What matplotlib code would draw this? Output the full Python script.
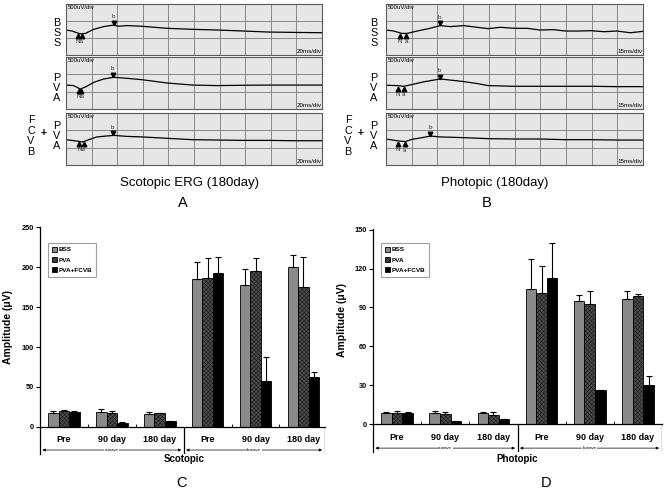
import matplotlib
matplotlib.use("Agg")
import matplotlib.pyplot as plt
from matplotlib.patches import Patch
import numpy as np

plt.rcParams['font.family'] = ['Liberation Sans', 'DejaVu Sans']
plt.rcParams['hatch.linewidth'] = 0.25

# ERG traces, x in time divisions (0-10), y in voltage divisions (0-3)
sco_bss_x = [0, 0.23, 0.56, 0.76, 1.08, 1.47, 1.86, 2.06, 2.38, 2.97, 3.95, 4.95, 5.9, 6.94, 7.92, 8.89, 10]
sco_bss_y = [1.47, 1.41, 1.24, 1.27, 1.51, 1.67, 1.76, 1.69, 1.73, 1.69, 1.57, 1.51, 1.47, 1.41, 1.35, 1.33, 1.31]
sco_pva_x = [0, 0.3, 0.56, 0.76, 1.09, 1.47, 1.86, 2.38, 2.97, 3.95, 4.95, 5.9, 6.94, 7.92, 8.89, 10]
sco_pva_y = [1.38, 1.35, 1.15, 1.27, 1.54, 1.73, 1.83, 1.77, 1.69, 1.5, 1.38, 1.35, 1.37, 1.38, 1.38, 1.38]
sco_fcvb_x = [0, 0.43, 0.66, 0.89, 1.21, 1.86, 2.38, 2.97, 3.95, 4.95, 5.9, 6.94, 7.92, 8.89, 10]
sco_fcvb_y = [1.46, 1.38, 1.33, 1.46, 1.62, 1.71, 1.65, 1.62, 1.54, 1.46, 1.44, 1.42, 1.42, 1.40, 1.40]

pho_bss_x = [0, 0.30, 0.62, 0.82, 1.21, 1.66, 2.11, 2.50, 3.02, 3.54, 3.98, 4.45, 4.98, 5.49, 5.98,
             6.52, 6.98, 7.50, 7.98, 8.47, 8.98, 9.51, 10]
pho_bss_y = [1.47, 1.41, 1.27, 1.27, 1.41, 1.55, 1.73, 1.67, 1.73, 1.63, 1.55, 1.63, 1.57, 1.57, 1.47,
             1.49, 1.41, 1.41, 1.43, 1.37, 1.41, 1.31, 1.39]
pho_pva_x = [0, 0.43, 0.69, 1.01, 1.47, 2.11, 2.50, 2.98, 3.54, 3.98, 4.98, 5.98, 6.98, 7.98, 8.98, 10]
pho_pva_y = [1.37, 1.35, 1.31, 1.41, 1.57, 1.73, 1.67, 1.59, 1.47, 1.35, 1.31, 1.31, 1.31, 1.31, 1.29, 1.29]
pho_fcvb_x = [0, 0.43, 0.75, 1.01, 1.34, 1.73, 2.11, 2.98, 3.98, 4.98, 5.98, 6.98, 7.98, 8.98, 10]
pho_fcvb_y = [1.5, 1.4, 1.35, 1.48, 1.56, 1.67, 1.62, 1.58, 1.52, 1.5, 1.5, 1.46, 1.46, 1.44, 1.44]

# a-wave (N, a) and b-wave marker positions for each strip
sco_a_x = [[0.46, 0.61], [0.52, 0.60], [0.49, 0.69]]
sco_a_y = [1.1, 1.01, 1.2]
sco_b_x = [1.86, 1.84, 1.84]
sco_b_y = [1.9, 1.97, 1.85]
pho_a_x = [[0.53, 0.78], [0.45, 0.69], [0.45, 0.73]]
pho_a_y = [1.13, 1.17, 1.21]
pho_b_x = [2.11, 2.11, 1.73]
pho_b_y = [1.87, 1.87, 1.81]

# bar data
groups = ['Pre', '90 day', '180 day', 'Pre', '90 day', '180 day']
series = ['BSS', 'PVA', 'PVA+FCVB']

sco_bss = [17.5, 19, 16.5, 185.5, 178, 200.5]
sco_bss_err = [2.5, 4, 2.5, 21, 20, 15]
sco_pva = [19.5, 18, 17, 187, 195, 175]
sco_pva_err = [1.5, 1.5, 0.8, 25, 17, 38]
sco_fcvb = [18.5, 4.5, 7, 192.5, 57, 62]
sco_fcvb_err = [1.5, 1.5, 0.5, 20.5, 30, 6.5]

pho_bss = [8.8, 8.2, 8.2, 104.5, 94.6, 96.8]
pho_bss_err = [0.8, 2, 1, 22.7, 5, 6]
pho_pva = [8.2, 7.9, 7.0, 101.5, 92.8, 98.7]
pho_pva_err = [2.0, 1.5, 2.0, 20.5, 9.8, 1.5]
pho_fcvb = [8.5, 2.4, 3.8, 112.8, 26.5, 30.2]
pho_fcvb_err = [1.2, 0, 0.5, 27, 0, 7]

W, H = 667, 491
fig = plt.figure(figsize=(W / 100, H / 100), dpi=100)


def fr(x0, y0, x1, y1):
    # pixel box (top-left origin) -> figure fraction rect
    return [x0 / W, 1 - y1 / H, (x1 - x0) / W, (y1 - y0) / H]


def erg_strip(rect, x, y, ax_pts, ay, bx, by, joined, speed):
    ax = fig.add_axes(rect)
    ax.set_facecolor('#e6e6e6')
    ax.set_xlim(0, 10)
    ax.set_ylim(0, 3)
    ax.set_xticks(range(11))
    ax.set_yticks([1, 2])
    ax.tick_params(length=0, labelbottom=False, labelleft=False)
    ax.grid(True, color='#7a7a7a', lw=0.6)
    for s in ax.spines.values():
        s.set_color('#5a5a5a')
        s.set_linewidth(0.8)
    ax.plot(x, y, color='black', lw=0.9)
    ax.plot(ax_pts, [ay] * len(ax_pts), '^', color='black', ms=3.3)
    ax.plot([bx], [by], 'v', color='black', ms=3.3)
    if joined:
        ax.text(np.mean(ax_pts), ay - 0.3, 'Na', fontsize=4.5, ha='center', va='center', color='#333')
    else:
        ax.text(ax_pts[0], ay - 0.33, 'N', fontsize=4.5, ha='center', va='center', color='#333')
        ax.text(ax_pts[1], ay - 0.36, 'a', fontsize=4.5, ha='center', va='center', color='#333')
    ax.text(bx - 0.02, by + 0.34, 'b', fontsize=4.5, ha='center', va='center', color='#333')
    ax.text(0.08, 2.82, '500uV/div', fontsize=4.3, ha='left', va='center')
    ax.text(9.97, 0.2, speed, fontsize=4.5, ha='right', va='center')
    return ax


strip_rows = [(4, 55), (57, 109), (113, 165)]
sco_traces = [(sco_bss_x, sco_bss_y), (sco_pva_x, sco_pva_y), (sco_fcvb_x, sco_fcvb_y)]
pho_traces = [(pho_bss_x, pho_bss_y), (pho_pva_x, pho_pva_y), (pho_fcvb_x, pho_fcvb_y)]
for i, (y0, y1) in enumerate(strip_rows):
    erg_strip(fr(66, y0, 322, y1), *sco_traces[i], sco_a_x[i], sco_a_y[i],
              sco_b_x[i], sco_b_y[i], True, '20ms/div')
    erg_strip(fr(386, y0, 643, y1), *pho_traces[i], pho_a_x[i], pho_a_y[i],
              pho_b_x[i], pho_b_y[i], False, '15ms/div')


def ftext(px, py, s, **kw):
    fig.text(px / W, 1 - py / H, s, ha='center', va='center', **kw)


row_lab = dict(fontsize=7.8, linespacing=1.05)
for xoff in (0, 317):
    ftext(57 + xoff, 33, 'B\nS\nS', **row_lab)
    ftext(57 + xoff, 88, 'P\nV\nA', **row_lab)
    ftext(57 + xoff, 136, 'P\nV\nA', **row_lab)
    ftext(31 + xoff, 136, 'F\nC\nV\nB', **row_lab)
    ftext(44 + xoff, 133, '+', fontsize=7.5, fontweight='bold')

ftext(190, 183, 'Scotopic ERG (180day)', fontsize=9.5)
ftext(183, 203, 'A', fontsize=10.5)
ftext(495, 183, 'Photopic (180day)', fontsize=9.5)
ftext(487, 203, 'B', fontsize=10.5)
ftext(182, 483, 'C', fontsize=10.5)
ftext(546, 483, 'D', fontsize=10.5)

colors = ['#8a8a8a', '#4c4c4c', '#000000']
hatches = ['', 'xxxxxxxx', '']


def bar_panel(rect, vals, errs, ymax, ystep, ybot, xright, lab_y, arr_y, title_y, title, ylab_px):
    ax = fig.add_axes(rect)
    xc = np.arange(len(groups))
    w = 0.22
    for k in range(3):
        ax.bar(xc + (k - 1) * w, vals[k], w, color=colors[k], edgecolor='black', lw=0.6,
               hatch=hatches[k], zorder=2)
        ax.errorbar(xc + (k - 1) * w, vals[k], yerr=[np.zeros(len(groups)), errs[k]],
                    fmt='none', ecolor='black', elinewidth=0.8, capsize=2, capthick=0.8, zorder=3)
    ax.set_xlim(-0.5, xright)
    ax.set_ylim(ybot, ymax + 0.5)
    ax.set_yticks(np.arange(0, ymax + 1, ystep))
    for lbl in ax.get_yticklabels():
        lbl.set_fontweight('bold')
    ax.tick_params(axis='y', labelsize=5.3, length=3, width=0.8, pad=1.5)
    ax.spines['top'].set_visible(False)
    ax.spines['right'].set_visible(False)
    ax.spines['left'].set_linewidth(0.9)
    ax.spines['bottom'].set_position(('data', 0))
    ax.spines['bottom'].set_linewidth(0.9)
    ax.set_xticks([0.5, 1.5, 3.5, 4.5])
    ax.tick_params(axis='x', direction='in', length=2, width=0.6, labelbottom=False)
    ax.vlines([2.5, xright - 0.01], ybot, 0, color='black', lw=0.9)
    for i, g in enumerate(groups):
        ax.text(xc[i], lab_y, g, fontsize=6.5, fontweight='bold', ha='center', va='center')
    for x0, x1, t in [(-0.45, 2.45, 'a-wave'), (2.55, xright - 0.06, 'b-wave')]:
        ax.annotate('', xy=(x1, arr_y), xytext=(x0, arr_y),
                    arrowprops=dict(arrowstyle='<|-|>', lw=0.5, mutation_scale=4, color='black',
                                    shrinkA=0, shrinkB=0))
        ax.text((x0 + x1) / 2, arr_y, t, fontsize=3.2, ha='center', va='center',
                bbox=dict(facecolor='white', edgecolor='none', pad=0.3))
    ax.text(2.5, title_y, title, fontsize=7, fontweight='bold', ha='center', va='center',
            clip_on=False)
    ftext(ylab_px[0], ylab_px[1], 'Amplitude (μV)', fontsize=7.5, fontweight='bold', rotation=90)
    handles = [Patch(facecolor=colors[k], edgecolor='black', hatch=hatches[k], lw=0.6) for k in range(3)]
    leg = ax.legend(handles, series, loc='upper left',
                    bbox_to_anchor=(rect[0] + 8 / W, 1 - 243 / H), bbox_transform=fig.transFigure,
                    prop=dict(size=4.6, weight='bold'), frameon=True, fancybox=False,
                    handlelength=0.8, handleheight=0.8, handletextpad=0.3, labelspacing=0.7,
                    borderpad=0.6, borderaxespad=0)
    leg.get_frame().set_edgecolor('#888888')
    leg.get_frame().set_linewidth(0.8)
    return ax


bar_panel(fr(40, 227, 325, 454),
          [sco_bss, sco_pva, sco_fcvb], [sco_bss_err, sco_pva_err, sco_fcvb_err],
          250, 50, -34, 5.45, -16.3, -29, -40.5, 'Scotopic', (8, 327))
bar_panel(fr(373, 229, 662, 452),
          [pho_bss, pho_pva, pho_fcvb], [pho_bss_err, pho_pva_err, pho_fcvb_err],
          150, 30, -21.5, 5.5, -10, -18.5, -27, 'Photopic', (342, 320))

fig.savefig('out.png', dpi=100)
